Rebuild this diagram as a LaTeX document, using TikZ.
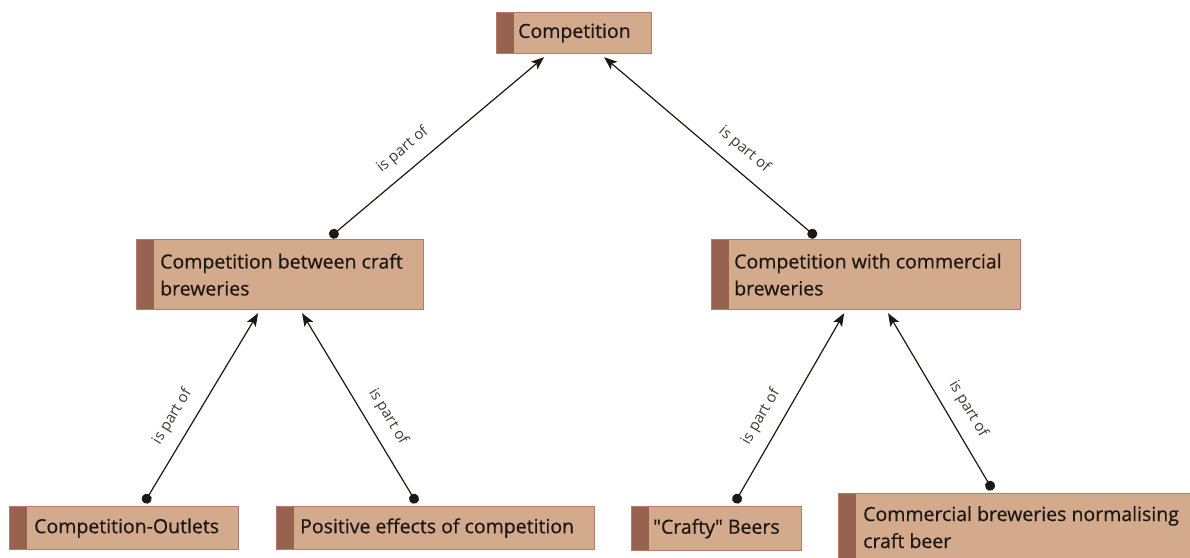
\documentclass[tikz,border=0pt]{standalone}
\usepackage{fontspec}
\setmainfont{Open Sans}
\newfontfamily\conceptfont{Open Sans}[FakeBold=0.6]
\usetikzlibrary{arrows.meta}

\definecolor{boxfill}{RGB}{212,170,140}
\definecolor{boxedge}{RGB}{178,124,104}
\definecolor{stripe}{RGB}{152,98,80}
\definecolor{ink}{RGB}{28,24,22}

\tikzset{
  conbox/.style={draw=boxedge, line width=1.2pt, fill=boxfill, inner sep=0pt,
    anchor=north west,
    path picture={\fill[stripe] (path picture bounding box.south west)
      rectangle ([xshift=17pt]path picture bounding box.north west);}},
  context/.style={anchor=west, inner sep=0pt, align=left, text=ink,
    font=\conceptfont\fontsize{19.5}{27}\selectfont},
  rel/.style={line width=1.2pt, draw=ink,
    {Circle[length=10pt]}-{Stealth[length=13pt,width=10pt,inset=3pt]}},
  rellabel/.style={sloped, pos=0.4, above=12pt, inner sep=0pt, text=ink!85,
    font=\fontsize{15}{18}\selectfont}
}

\begin{document}
\begin{tikzpicture}[x=1pt, y=-1pt]
  \useasboundingbox (0,0) rectangle (1190,557);
  \clip (0,0) rectangle (1190,557);

  % concept boxes
  \node[conbox, minimum width=155pt, minimum height=41pt] (comp) at (496,12) {};
  \node[context] (comp-t) at ([xshift=22pt]comp.west) {Competition};

  \node[conbox, minimum width=287pt, minimum height=70pt] (craft) at (136,239) {};
  \node[context] (craft-t) at ([xshift=24pt]craft.west) {Competition between craft\\breweries};

  \node[conbox, minimum width=309pt, minimum height=70pt] (comm) at (711,239) {};
  \node[context] (comm-t) at ([xshift=23pt]comm.west) {Competition with commercial\\breweries};

  \node[conbox, minimum width=229pt, minimum height=43pt] (outlets) at (9,506) {};
  \node[context] (outlets-t) at ([xshift=25pt]outlets.west) {Competition-Outlets};

  \node[conbox, minimum width=318pt, minimum height=43pt] (positive) at (276,506) {};
  \node[context] (positive-t) at ([xshift=24pt]positive.west) {Positive effects of competition};

  \node[conbox, minimum width=170pt, minimum height=44pt] (crafty) at (631,506) {};
  \node[context] (crafty-t) at ([xshift=22pt]crafty.west) {\textquotedbl Crafty\textquotedbl{} Beers};

  \node[conbox, minimum width=362pt, minimum height=72pt] (normal) at (838,493) {};
  \node[context, anchor=north west] (normal-t) at ([xshift=25pt,yshift=-13pt]normal.north west) {Commercial breweries normalising\\craft beer};

  % "is part of" relations
  \draw[rel] ([xshift=50pt,yshift=2pt]craft.north) -- ([xshift=-30pt,yshift=-3pt]comp.south)
    node[rellabel] {is part of};
  \draw[rel] ([xshift=-50pt,yshift=2pt]comm.north) -- ([xshift=30pt,yshift=-3pt]comp.south)
    node[rellabel] {is part of};

  \draw[rel] ([xshift=20pt,yshift=3pt]outlets.north) -- ([xshift=-22pt,yshift=-3pt]craft.south)
    node[rellabel] {is part of};
  \draw[rel] ([xshift=-19pt,yshift=3pt]positive.north) -- ([xshift=22pt,yshift=-3pt]craft.south)
    node[rellabel] {is part of};

  \draw[rel] ([xshift=18pt,yshift=3pt]crafty.north) -- ([xshift=-22pt,yshift=-3pt]comm.south)
    node[rellabel] {is part of};
  \draw[rel] ([xshift=-27pt,yshift=3pt]normal.north) -- ([xshift=22pt,yshift=-3pt]comm.south)
    node[rellabel] {is part of};
\end{tikzpicture}
\end{document}
